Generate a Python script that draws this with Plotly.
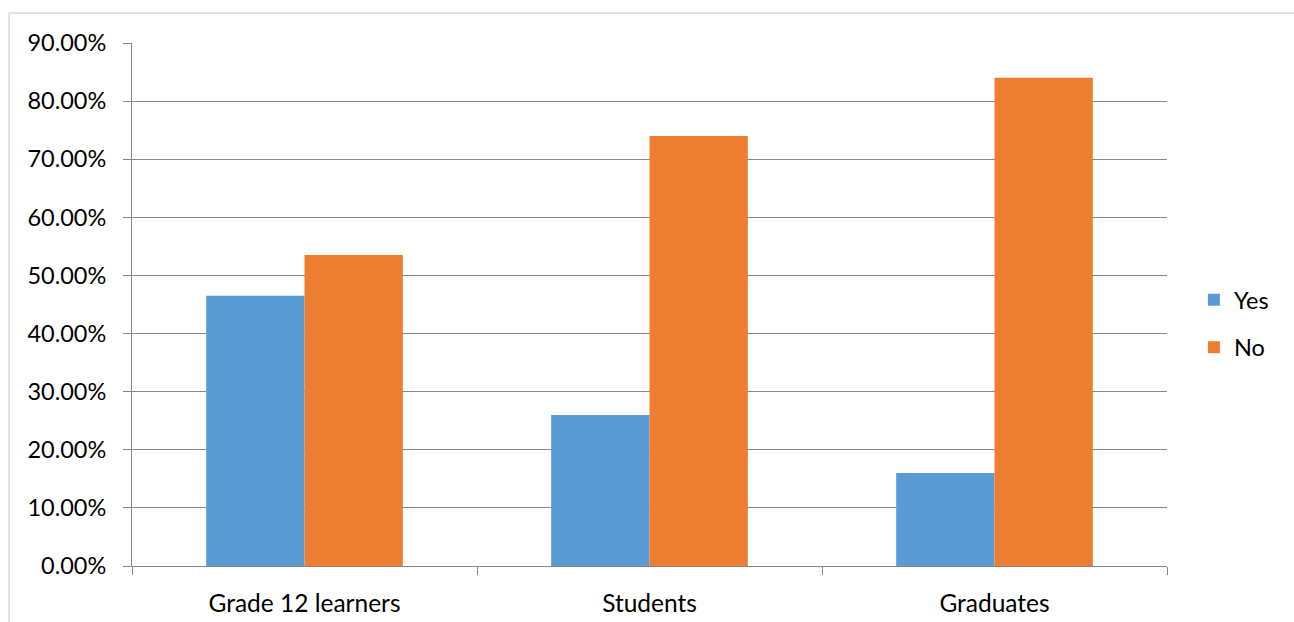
import plotly.graph_objects as go

categories = ["Grade 12 learners", "Students", "Graduates"]
yes_values = [0.465, 0.26, 0.16]
no_values = [0.535, 0.74, 0.84]
series_names = ["Yes", "No"]
colors = ["#5B9BD5", "#ED7D31"]

FONT = "Lato"
fig = go.Figure()
for name, vals, col in zip(series_names, [yes_values, no_values], colors):
    fig.add_trace(go.Bar(x=categories, y=vals, name=name, marker_color=col,
                         marker_line_width=0, legendgroup=name))

grid = "#868686"
fig.update_layout(
    width=1294, height=622,
    margin=dict(l=132, r=127, t=43, b=55.5, autoexpand=False),
    paper_bgcolor="white", plot_bgcolor="white",
    font=dict(family=FONT, size=23.5, color="#000000"),
    bargap=0.43, bargroupgap=0,
    legend=dict(x=1.026, y=0.463, xanchor="left", yanchor="middle",
                font=dict(family=FONT, size=23.5), tracegroupgap=14,
                traceorder="grouped", itemwidth=30),
    shapes=[dict(type="rect", xref="paper", yref="paper",
                 x0=-0.1188, x1=1.3, y0=-0.3, y1=1.0573,
                 line=dict(color="#C8C8C8", width=1), layer="below")],
)
fig.update_yaxes(range=[0, 0.9], dtick=0.1, tickformat=".2%",
                 showgrid=True, gridcolor=grid, gridwidth=1,
                 showline=True, linecolor=grid, linewidth=1,
                 ticks="outside", ticklen=8, tickcolor=grid,
                 ticklabelstandoff=12, zeroline=False, automargin=False,
                 tickfont=dict(size=23.5))
fig.update_xaxes(showline=True, linecolor=grid, linewidth=1,
                 ticks="outside", ticklen=8, tickcolor=grid,
                 tickson="boundaries", ticklabelstandoff=16,
                 showgrid=False, automargin=False,
                 tickfont=dict(size=24.5))

fig.write_html("out.html")
